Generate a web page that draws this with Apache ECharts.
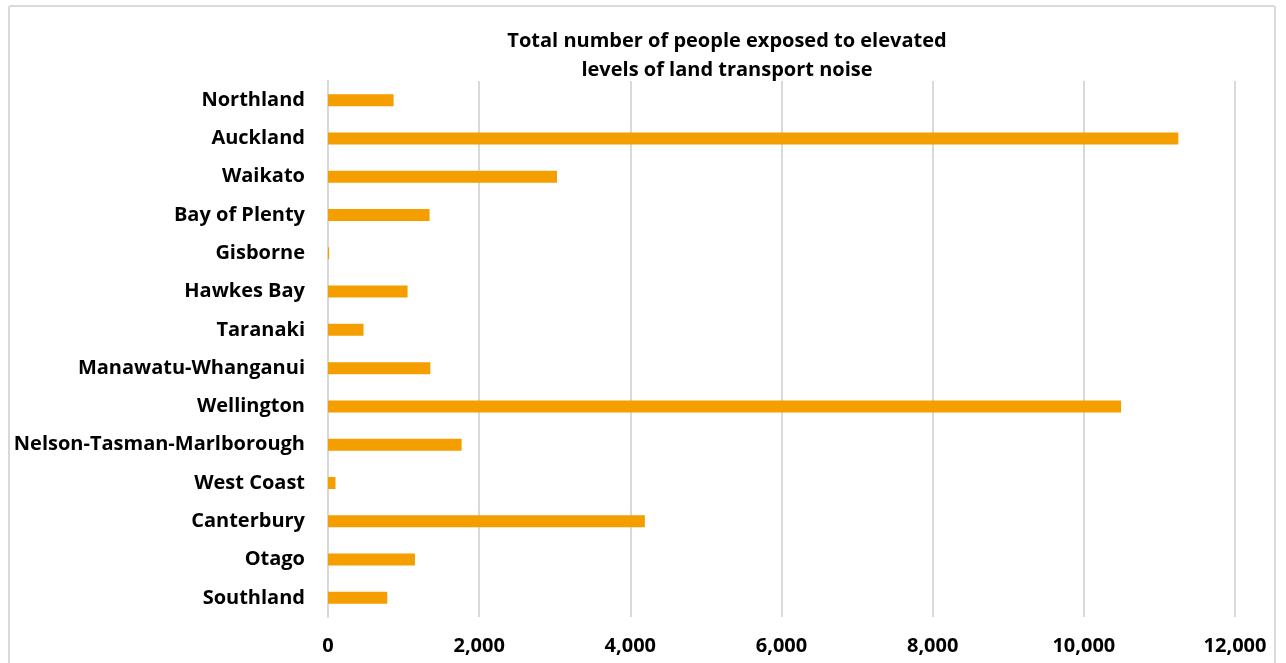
<!DOCTYPE html>
<html>
<head>
<meta charset="utf-8">
<script src="https://cdn.jsdelivr.net/npm/echarts@6/dist/echarts.min.js"></script>
<style>
  html, body { margin: 0; padding: 0; background: #fff; }
  #frame { position: absolute; left: 8px; top: 5px; width: 1268px; height: 680px;
           border: 2px solid #d9d9d9; border-radius: 3px; box-sizing: border-box; }
  #chart { position: absolute; left: 0; top: 0; width: 1286px; height: 663px; }
</style>
</head>
<body>
<div id="frame"></div>
<div id="chart"></div>
<script>
// Regions, listed top to bottom
const regions = [
  'Northland', 'Auckland', 'Waikato', 'Bay of Plenty', 'Gisborne', 'Hawkes Bay',
  'Taranaki', 'Manawatu-Whanganui', 'Wellington', 'Nelson-Tasman-Marlborough',
  'West Coast', 'Canterbury', 'Otago', 'Southland'
];
// People exposed to elevated land transport noise
const peopleExposed = [
  868, 11250, 3030, 1344, 15, 1053,
  470, 1354, 10493, 1768,
  99, 4192, 1150, 784
];
const xTicks = { min: 0, max: 12000, interval: 2000 };

const font = 'Open Sans';
const chart = echarts.init(document.getElementById('chart'));
chart.setOption({
  animation: false,
  title: {
    text: 'Total number of people exposed to elevated\nlevels of land transport noise',
    left: 722, top: 22, textAlign: 'center',
    textStyle: { fontFamily: font, fontWeight: 'bold', fontSize: 20, lineHeight: 29, color: '#000' }
  },
  grid: { left: 328, right: 51, top: 81, bottom: 46, containLabel: false },
  xAxis: {
    type: 'value', min: xTicks.min, max: xTicks.max, interval: xTicks.interval,
    axisLine: { show: false }, axisTick: { show: false },
    splitLine: { lineStyle: { color: '#d9d9d9', width: 2 } },
    axisLabel: {
      margin: 19, fontFamily: font, fontWeight: 'bold', fontSize: 20, color: '#000',
      formatter: v => v.toLocaleString('en-US')
    }
  },
  yAxis: {
    type: 'category', data: regions, inverse: true,
    axisLine: { show: true, lineStyle: { color: '#d9d9d9', width: 2 } },
    axisTick: { show: false },
    axisLabel: { margin: 23, fontFamily: font, fontWeight: 'bold', fontSize: 20, color: '#000' }
  },
  series: [{
    type: 'bar', data: peopleExposed, barWidth: 12,
    itemStyle: { color: '#f59e00' }
  }]
});
</script>
</body>
</html>
